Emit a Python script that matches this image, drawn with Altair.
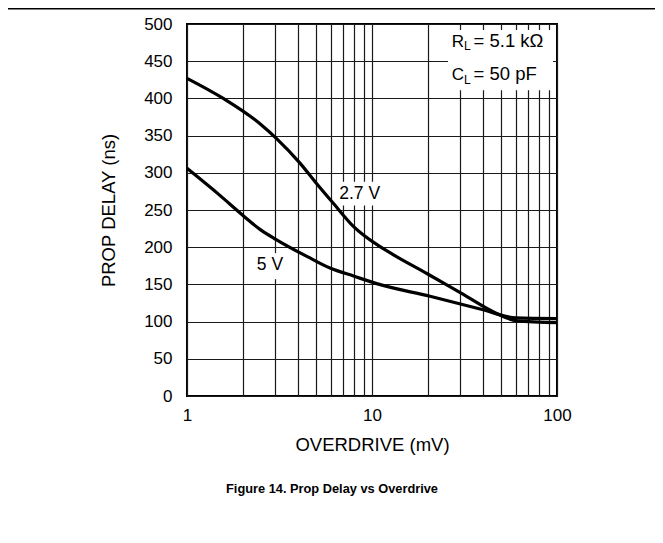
import altair as alt
import pandas as pd

# Curve data (overdrive mV -> prop delay ns)
mv_27 = [1, 1.57, 2.48, 3.05, 4.08, 5.0, 6.18, 7.93, 11, 13, 20, 30, 47.2, 60.6, 100]
ns_27 = [427, 400, 366, 346, 313, 286, 259, 228, 201, 190, 164, 139, 111, 101, 98.5]
mv_5 = [1, 1.5, 2.0, 2.48, 3.05, 4.5, 5.93, 8, 10.6, 20.6, 38.4, 60, 100]
ns_5 = [306, 270, 243, 224, 210, 187, 172, 161, 151, 134, 117, 105, 104]

x_grid = [1, 2, 3, 4, 5, 6, 7, 8, 9, 10, 20, 30, 40, 50, 60, 70, 80, 90, 100]
y_ticks = [0, 50, 100, 150, 200, 250, 300, 350, 400, 450, 500]

# curve labels (position in data units) and their white backgrounds
lab_text = ["2.7 V", "5 V"]
lab_x = [8.58, 2.81]
lab_y = [271, 176]
box_x = [6.47, 2.33, 25.75]
box_x2 = [11.33, 3.39, 95.1]
box_y = [288, 192, 492]
box_y2 = [256, 157, 411]

df = pd.concat([
    pd.DataFrame({"mv": mv_27, "ns": ns_27, "s": "2.7 V"}),
    pd.DataFrame({"mv": mv_5, "ns": ns_5, "s": "5 V"}),
])

xs = alt.Scale(type="log", domain=[1, 100], nice=False)
ys = alt.Scale(domain=[0, 500], nice=False)
FONT = "Liberation Sans"

x_axis = alt.Axis(values=x_grid, grid=True, ticks=False, domain=False,
                  labelOverlap=False, labelFlush=False,
                  labelExpr="(datum.value == 1 || datum.value == 10 || datum.value == 100) ? datum.value : ''",
                  labelPadding=11, titlePadding=12)
y_axis = alt.Axis(values=y_ticks, grid=True, ticks=False, domain=False,
                  labelOverlap=False, labelFlush=False, labelPadding=15, titlePadding=25)


def X(f):
    return alt.X(f, scale=xs, axis=x_axis, title="OVERDRIVE (mV)")


def Y(f):
    return alt.Y(f, scale=ys, axis=y_axis, title="PROP DELAY (ns)")


lines = alt.Chart(df).mark_line(color="black", strokeWidth=3.2, interpolate="monotone").encode(
    x=X("mv:Q"), y=Y("ns:Q"), detail="s:N")

boxes = alt.Chart(pd.DataFrame({"x": box_x, "x2": box_x2, "y": box_y, "y2": box_y2})).mark_rect(
    color="white").encode(x=X("x:Q"), x2="x2:Q", y=Y("y:Q"), y2="y2:Q")

labels = alt.Chart(pd.DataFrame({"t": lab_text, "x": lab_x, "y": lab_y})).mark_text(
    font=FONT, fontSize=17.5, color="black", baseline="middle", align="center").encode(
    x=X("x:Q"), y=Y("y:Q"), text="t:N")

# legend block: R_L = 5.1 kOhm, C_L = 50 pF
leg_main = pd.DataFrame({"t": ["R", "C"], "x": [26.97, 26.97], "y": [469.5, 424.7]})
leg_sub = pd.DataFrame({"t": ["L", "L"], "x": [31.4, 31.4], "y": [464.5, 419.7]})
leg_rest = pd.DataFrame({"t": ["= 5.1 kΩ", "= 50 pF"], "x": [35.4, 35.4], "y": [469.5, 424.7]})


def txt(d, size):
    return alt.Chart(d).mark_text(font=FONT, fontSize=size, color="black",
                                  baseline="alphabetic", align="left").encode(
        x=X("x:Q"), y=Y("y:Q"), text="t:N")


topline = alt.Chart(pd.DataFrame({"a": [0]})).mark_rule(color="black", strokeWidth=1.6).encode(
    x=alt.value(-179), x2=alt.value(468), y=alt.value(-15.3))

chart = alt.layer(boxes, lines, labels,
                  txt(leg_main, 17), txt(leg_sub, 12), txt(leg_rest, 18.5), topline).properties(
    width=370, height=372,
    autosize=alt.AutoSizeParams(type="none"),
    padding={"left": 179, "top": 16, "right": 98, "bottom": 139},
    title=alt.TitleParams("Figure 14. Prop Delay vs Overdrive", orient="bottom",
                          font=FONT, fontSize=12.8, fontWeight="bold", offset=29, dx=-40,
                          color="black"),
).configure_axis(
    labelFont=FONT, titleFont=FONT, labelFontSize=17, titleFontSize=18.5,
    labelColor="black", titleColor="black", titleFontWeight="normal",
    gridColor="#1a1a1a", gridOpacity=1, gridWidth=1.2,
).configure_view(stroke="black", strokeWidth=2)

chart.save("out.html", embed_options={"renderer": "svg", "actions": False})
